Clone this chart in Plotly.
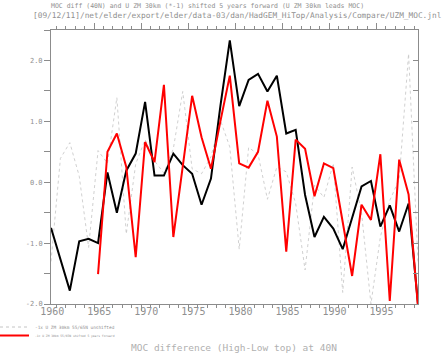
import plotly.graph_objects as go

# ---- data ----
years = list(range(1960, 2000))
year_offset = 0.42  # mid-year time stamps
time = [y + year_offset for y in years]

moc_diff = [-0.75, -1.26, -1.78, -0.97, -0.93, -1.00, 0.16, -0.50, 0.19, 0.47,
            1.32, 0.11, 0.11, 0.47, 0.28, 0.14, -0.37, 0.06, 1.25, 2.33,
            1.25, 1.68, 1.78, 1.49, 1.75, 0.80, 0.86, -0.21, -0.90, -0.57,
            -0.76, -1.10, -0.57, -0.07, 0.02, -0.73, -0.38, -0.81, -0.35, -2.00]

uzm_shifted = [None, None, None, None, None, -1.51, 0.50, 0.80, 0.25, -1.23,
               0.66, 0.33, 1.60, -0.90, 0.25, 1.42, 0.74, 0.22, 1.00, 1.75,
               0.31, 0.24, 0.50, 1.34, 0.75, -1.14, 0.70, 0.55, -0.23, 0.31,
               0.23, -0.65, -1.54, -0.37, -0.62, 0.46, -1.95, 0.37, -0.20, -2.05]

uzm_unshifted = [-1.30, 0.39, 0.65, 0.10, -1.07, 0.52, 0.31, 1.39, -0.85, 0.30,
                 0.70, 0.35, 0.15, 0.55, 1.49, 0.22, 0.14, 0.42, 1.02, 0.58,
                 -1.10, 0.57, 0.46, -0.28, 0.25, 0.17, -0.35, -1.44, -0.05, -0.25,
                 0.31, -1.81, 0.25, -0.50, -2.00, -0.90, -0.30, 0.05, 2.11, -1.30]

x_major_ticks = [1965, 1970, 1975, 1980, 1985, 1990, 1995]
x_label_years = [1960, 1965, 1970, 1975, 1980, 1985, 1990, 1995]
x_label_text = ["1960", "1965", "1970", "1975", "1980", "1985", "1990", "1995"]
y_tick_vals = [-2.0, -1.5, -1.0, -0.5, 0.0, 0.5, 1.0, 1.5, 2.0, 2.5]
y_tick_text = ["-2.0", "", "-1.0", "", "0.0", "", "1.0", "", "2.0", ""]

title1 = "MOC diff (40N) and U ZM 30km (*-1) shifted 5 years forward (U ZM 30km leads MOC)"
title2 = "[09/12/11]/net/elder/export/elder/data-03/dan/HadGEM_HiTop/Analysis/Compare/UZM_MOC.jnl"
xtitle = "MOC difference (High-Low top) at 40N"
legend1 = "-1x U ZM 30km 55/65N unshifted"
legend2 = "-1x U ZM 30km 55/65N shifted 5 years forward"

# ---- layout constants (pixels) ----
W, H = 444, 353
L, R, T, B = 51, 26, 30, 49
PW, PH = W - L - R, H - T - B
xr = [time[0], time[-1]]
yr = [-2.0, 2.5]
axc = "#8c8c8c"
txc = "#909090"
FONT = "DejaVu Sans Mono"

def px_x(p):
    return (p - L) / PW

def px_y(p):
    return (H - B - p) / PH

fig = go.Figure()
fig.add_trace(go.Scatter(x=time, y=uzm_unshifted, mode="lines",
                         line=dict(color="#c4c4c4", width=0.8, dash="dot"),
                         showlegend=False, hoverinfo="skip"))
fig.add_trace(go.Scatter(x=time, y=moc_diff, mode="lines",
                         line=dict(color="#000000", width=2),
                         showlegend=False))
fig.add_trace(go.Scatter(x=time, y=uzm_shifted, mode="lines",
                         line=dict(color="#ff0000", width=2),
                         showlegend=False))
# helper traces to activate the overlay axes
fig.add_trace(go.Scatter(x=[], y=[], xaxis="x2", yaxis="y", showlegend=False, hoverinfo="skip"))
fig.add_trace(go.Scatter(x=[], y=[], xaxis="x", yaxis="y2", showlegend=False, hoverinfo="skip"))

fig.update_layout(
    width=W, height=H,
    margin=dict(l=L, r=R, t=T, b=B, pad=0),
    paper_bgcolor="white", plot_bgcolor="white",
    showlegend=False,
    xaxis=dict(range=xr, showgrid=False, zeroline=False,
               showline=True, linecolor=axc, linewidth=1, mirror="ticks",
               ticks="outside", ticklen=6, tickwidth=1, tickcolor=axc,
               tickvals=x_major_ticks, showticklabels=False,
               minor=dict(dtick=1, tick0=1960, ticks="outside", ticklen=3,
                          tickcolor=axc, tickwidth=1, showgrid=False)),
    xaxis2=dict(range=xr, overlaying="x", side="bottom", anchor="y",
                showgrid=False, zeroline=False, showline=False, ticks="",
                tickvals=[v + 0.55 for v in x_label_years], ticktext=x_label_text,
                tickfont=dict(family=FONT, size=10, color=txc)),
    yaxis=dict(range=yr, showgrid=False, zeroline=False,
               showline=True, linecolor=axc, linewidth=1,
               ticks="outside", ticklen=6, tickwidth=1, tickcolor=axc,
               tickvals=y_tick_vals, ticktext=y_tick_text,
               tickfont=dict(family=FONT, size=7, color=txc)),
    yaxis2=dict(range=yr, overlaying="y", side="right", anchor="x",
                showgrid=False, zeroline=False,
                showline=True, linecolor=axc, linewidth=1,
                ticks="inside", ticklen=5, tickwidth=1, tickcolor=axc,
                tickvals=y_tick_vals, showticklabels=False),
)

anns = [
    dict(text=title1, x=px_x(207), y=px_y(6), xanchor="center", yanchor="middle",
         font=dict(family=FONT, size=6.5, color=txc)),
    dict(text=title2, x=px_x(31), y=px_y(16), xanchor="left", yanchor="middle",
         font=dict(family=FONT, size=7.8, color=txc)),
    dict(text=xtitle, x=px_x(234), y=px_y(347), xanchor="center", yanchor="middle",
         font=dict(family=FONT, size=9.5, color="#b0b0b0")),
    dict(text=legend1, x=px_x(33), y=px_y(327), xanchor="left", yanchor="middle",
         font=dict(family=FONT, size=4.4, color=txc)),
    dict(text=legend2, x=px_x(33), y=px_y(335.5), xanchor="left", yanchor="middle",
         font=dict(family=FONT, size=3.0, color=txc)),
]
for a in anns:
    a.update(xref="paper", yref="paper", showarrow=False)
fig.update_layout(annotations=anns)

fig.add_shape(type="line", xref="paper", yref="paper",
              x0=px_x(0), x1=px_x(28), y0=px_y(327), y1=px_y(327),
              line=dict(color="#c4c4c4", width=1, dash="dot"))
fig.add_shape(type="line", xref="paper", yref="paper",
              x0=px_x(0), x1=px_x(29), y0=px_y(335.5), y1=px_y(335.5),
              line=dict(color="#ff0000", width=2))

fig.write_html("out.html")
